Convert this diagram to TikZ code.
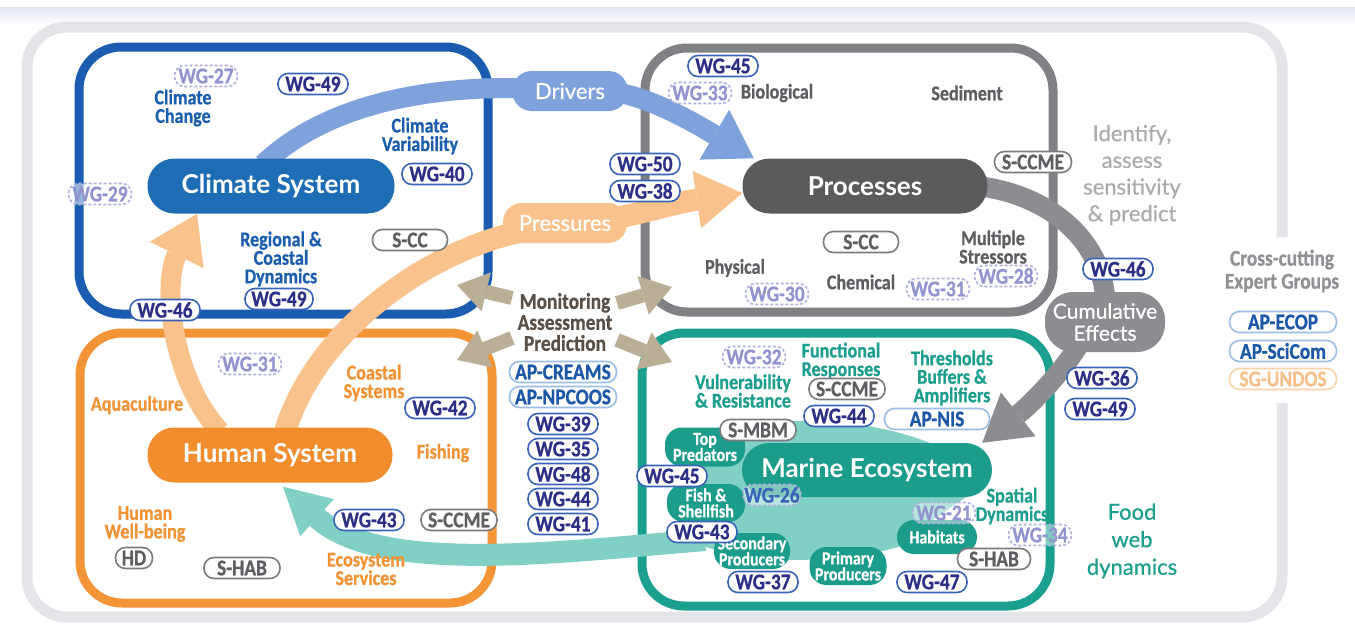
\documentclass[tikz,border=0pt]{standalone}
\usepackage{fontspec}
\usetikzlibrary{arrows.meta}
\newfontfamily\condfont{Carlito}[FakeStretch=0.86, BoldFeatures={FakeBold=0.7}]
\newfontfamily\latofont{Lato}
\newfontfamily\latomed{Lato}[FakeBold=0.6]
\definecolor{topg}{HTML}{E2E4EE}
\definecolor{outerg}{HTML}{E4E5E8}
\definecolor{bluebox}{HTML}{1A5CB0}
\definecolor{cspill}{HTML}{1E6DB4}
\definecolor{drv}{HTML}{7FA2DD}
\definecolor{greybox}{HTML}{808184}
\definecolor{prpill}{HTML}{5A5B5D}
\definecolor{orangebox}{HTML}{F39536}
\definecolor{hspill}{HTML}{F18D2C}
\definecolor{prs}{HTML}{F9C28C}
\definecolor{tealbox}{HTML}{1BA090}
\definecolor{mepill}{HTML}{1C9C8B}
\definecolor{lteal}{HTML}{80D0C6}
\definecolor{tanc}{HTML}{BAAE96}
\definecolor{cumg}{HTML}{8C8D90}
\definecolor{navy}{HTML}{2B2F86}
\definecolor{wgb}{HTML}{3A64B8}
\definecolor{dashb}{HTML}{B0B2DC}
\definecolor{dasht}{HTML}{9194CE}
\definecolor{sbord}{HTML}{7A7B7E}
\definecolor{stext}{HTML}{5E5F62}
\definecolor{apbord}{HTML}{9CBDE6}
\definecolor{aptext}{HTML}{1C58A8}
\definecolor{sgbord}{HTML}{F7D3AA}
\definecolor{sgtext}{HTML}{F5C08A}
\definecolor{bluelab}{HTML}{1B5DAE}
\definecolor{greylab}{HTML}{5D5E61}
\definecolor{orangelab}{HTML}{F19234}
\definecolor{teallab}{HTML}{1C9E8D}
\definecolor{idgrey}{HTML}{A9ABAE}
\definecolor{ccgrey}{HTML}{8F9194}
\definecolor{monc}{HTML}{5B5047}
\pgfdeclarelayer{bg}
\pgfdeclarelayer{mid}
\pgfsetlayers{bg,mid,main}
\tikzset{
  badge/.style={draw=wgb, fill=white, text=navy, rounded corners=10pt, line width=1.6pt,
    minimum width=70pt, minimum height=21pt, inner sep=0pt,
    font=\condfont\bfseries\fontsize{22.5}{22}\selectfont},
  wg/.style={badge},
  wgd/.style={badge, draw=dashb, text=dasht, dash pattern=on 3pt off 2pt,
    fill opacity=0.55, text opacity=1, minimum width=63pt},
  sb/.style={badge, draw=sbord, text=stext, minimum width=76pt},
  apb/.style={badge, draw=apbord, text=aptext, minimum width=107pt},
  sgb/.style={badge, draw=sgbord, text=sgtext, minimum width=107pt},
  lab/.style={font=\condfont\bfseries\fontsize{21}{18.5}\selectfont, align=center, inner sep=0pt},
  bluel/.style={lab, text=bluelab},
  greyl/.style={lab, text=greylab},
  orangel/.style={lab, text=orangelab},
  teall/.style={lab, text=teallab},
  pill/.style={rounded corners=27pt, minimum height=55pt, text=white, inner sep=0pt,
    font=\latofont\bfseries\fontsize{26}{26}\selectfont},
  smallpill/.style={rounded corners=19pt, minimum height=40pt, text=white, inner sep=0pt,
    font=\latomed\fontsize{22}{22}\selectfont},
  subpill/.style={rounded corners=17pt, fill=mepill, text=white, inner sep=0pt, align=center,
    font=\condfont\bfseries\fontsize{18.5}{16}\selectfont},
  box/.style={line width=9pt, rounded corners=42pt},
  band/.style={line width=20pt},
  bigtip/.style={-{Triangle[width=#1,length=46pt,line width=0pt]}},
  montip/.style={line width=14pt, tanc, -{Triangle[width=40pt,length=30pt,line width=0pt]}},
}
\begin{document}
\begin{tikzpicture}[x=1pt,y=-1pt]
\useasboundingbox (0,0) rectangle (1355,629);
\begin{pgfonlayer}{bg}
\fill[white] (0,0) rectangle (1355,629);
\shade[top color=topg, bottom color=white] (0,7) rectangle (1355,24);
\draw[outerg, line width=11pt, rounded corners=40pt]
  (1282,237) -- (1282,27) -- (27,27) -- (27,617) -- (1282,617) -- (1282,403);
\draw[box, bluebox] (79,47) rectangle (488,314);
\draw[box, greybox] (645,48) rectangle (1053,312);
\draw[box, orangebox] (80,333) rectangle (492,603);
\draw[box, tealbox] (642,333) rectangle (1050,606);
\fill[lteal] (705,440) .. controls (720,420) and (760,421) .. (800,421)
  .. controls (860,421) and (910,432) .. (945,450) -- (975,490)
  .. controls (950,510) and (920,525) .. (905,545)
  .. controls (870,556) and (830,560) .. (790,560)
  .. controls (750,560) and (720,552) .. (700,545) -- cycle;
\end{pgfonlayer}

% main pills
\node[pill, fill=cspill, minimum width=247pt] (cs) at (271,186) {Climate System};
\node[pill, fill=prpill, minimum width=245pt] (pr) at (865,186) {Processes};
\node[pill, fill=hspill, minimum width=245pt] (hs) at (270,455) {Human System};
\node[smallpill, fill=drv, minimum width=115pt] (dv) at (570,91) {Drivers};
\node[smallpill, fill=prs, minimum width=124pt] (ps) at (565,223) {Pressures};
\node[rounded corners=28pt, fill=cumg, text=white, minimum width=120pt, minimum height=60pt,
  inner sep=0pt, align=center, font=\latomed\fontsize{21}{22}\selectfont]
  (ce) at (1105,322) {Cumulative\\Effects};

% marine sub-pills
\node[subpill, minimum width=80pt, minimum height=39pt] (tp) at (705,447) {Top\\Predators};
\node[subpill, minimum width=78pt, minimum height=38pt] (fs) at (706,503) {Fish \&\\Shellfish};
\node[subpill, minimum width=76pt, minimum height=36pt] (sp) at (752,551) {Secondary\\Producers};
\node[subpill, minimum width=77pt, minimum height=38pt] (pp) at (848,566) {Primary\\Producers};
\node[subpill, minimum width=80pt, minimum height=34pt] (hb) at (937,537) {Habitats};
\node[pill, fill=mepill, minimum width=250pt, minimum height=54pt] (me) at (867,470) {Marine Ecosystem};

% monitoring
\node[font=\condfont\bfseries\fontsize{22.5}{21}\selectfont, text=monc, align=center, inner sep=0pt]
  (mon) at (565,322) {Monitoring\\Assessment\\Prediction};
\coordinate (t1) at (457,285);
\coordinate (t2) at (457,360);
\coordinate (t3) at (672,287);
\coordinate (t4) at (672,362);

\begin{pgfonlayer}{mid}
\draw[band, drv, bigtip=58pt] ([xshift=-8pt,yshift=-6pt]cs.north)
  .. controls (320,110) and (410,88) .. (510,88) -- (615,92)
  .. controls (650,98) and (688,119) .. (pr.166);
\draw[band, prs, line width=22pt, bigtip=58pt] ([xshift=15pt,yshift=-4pt]hs.north)
  .. controls (320,320) and (440,248) .. (520,232) -- (615,218)
  .. controls (640,214) and (674,203) .. ([yshift=-7pt]pr.west);
\draw[band, prs, bigtip=60pt] ([xshift=-50pt,yshift=-4pt]hs.north)
  .. controls (172,380) and (162,285) .. ([xshift=-74pt]cs.south);
\draw[band, lteal, line width=22pt, bigtip=50pt] (705,540)
  .. controls (560,552) and (380,575) .. ([xshift=13pt,yshift=-4pt]hs.south);
\draw[band, cumg] ([xshift=-10pt]pr.east) .. controls (1050,195) and (1100,240) .. ([yshift=-4pt]ce.north);
\draw[band, cumg, bigtip=56pt] ([xshift=-27pt,yshift=6pt]ce.south)
  .. controls (1060,375) and (1030,405) .. ([xshift=-10pt]me.north east);
\draw[montip] ([xshift=-53pt,yshift=24pt]mon.center) -- (t1);
\draw[montip] ([xshift=-53pt,yshift=-16pt]mon.center) -- (t2);
\draw[montip] ([xshift=52pt,yshift=19pt]mon.center) -- (t3);
\draw[montip] ([xshift=52pt,yshift=-18pt]mon.center) -- (t4);
\end{pgfonlayer}

% climate box
\node[wgd] (b27) at (206,76) {WG-27};
\node[wg] (b49a) at (313,84) {WG-49};
\node[wgd] (b29) at (100,194) {WG-29};
\node[wg] (b40) at (437,174) {WG-40};
\node[sb, minimum width=75pt] (bscc) at (410,240) {S-CC};
\node[wg, minimum width=68pt] (b49b) at (279,299) {WG-49};
\node[wg] (b46) at (165,310) {WG-46};
\node[bluel] (lcc) at (183,108) {Climate\\Change};
\node[bluel] (lcv) at (420,136) {Climate\\Variability};
\node[bluel] (lrc) at (281,259) {Regional \&\\Coastal\\Dynamics};

% processes box
\node[wg] (p45) at (723,66) {WG-45};
\node[wgd] (p33) at (700,93) {WG-33};
\node[greyl] (lbio) at (777,93) {Biological};
\node[greyl] (lsed) at (967,93) {Sediment};
\node[wg] (p50) at (645,164) {WG-50};
\node[wg] (p38) at (645,191) {WG-38};
\node[sb, minimum width=77pt] (pscm) at (1033,162) {S-CCME};
\node[sb, minimum width=75pt] (pscc) at (861,242) {S-CC};
\node[greyl] (lphy) at (735,268) {Physical};
\node[wgd] (p30) at (777,294) {WG-30};
\node[greyl] (lche) at (861,282) {Chemical};
\node[wgd] (p31) at (938,289) {WG-31};
\node[greyl] (lms) at (993,247) {Multiple\\Stressors};
\node[wgd] (p28) at (1006,276) {WG-28};

% right side
\node[wg] (r46) at (1118,269) {WG-46};
\node[wg] (r36) at (1102,378) {WG-36};
\node[wg] (r49) at (1100,409) {WG-49};
\node[font=\latomed\fontsize{22}{26.7}\selectfont, text=idgrey, align=center, inner sep=0pt]
  (idt) at (1132,175) {Identify,\\assess\\sensitivity\\\& predict};
\node[font=\condfont\bfseries\fontsize{22.5}{23}\selectfont, text=ccgrey, align=center, inner sep=0pt]
  (cct) at (1282,271) {Cross-cutting\\Expert Groups};
\node[apb] (aecop) at (1283,322) {AP-ECOP};
\node[apb] (asci) at (1283,351) {AP-SciCom};
\node[sgb] (sgu) at (1283,379) {SG-UNDOS};
\node[font=\latomed\fontsize{22}{27.5}\selectfont, text=teallab, align=center, inner sep=0pt]
  (fwd) at (1132,541) {Food\\web\\dynamics};

% human box
\node[wgd] (h31) at (250,364) {WG-31};
\node[orangel] (laq) at (137,405) {Aquaculture};
\node[orangel] (lcs) at (374,383) {Coastal\\Systems};
\node[wg] (h42) at (440,408) {WG-42};
\node[orangel] (lfi) at (443,453) {Fishing};
\node[orangel] (lhw) at (145,524) {Human\\Well-being};
\node[sb, minimum width=37pt] (hhd) at (134,558) {HD};
\node[sb] (hshab) at (242,568) {S-HAB};
\node[wg] (h43) at (369,520) {WG-43};
\node[sb] (hscm) at (459,520) {S-CCME};
\node[orangel] (les) at (366,569) {Ecosystem\\Services};

% middle column
\node[apb] (acr) at (563,372) {AP-CREAMS};
\node[apb] (anp) at (563,397) {AP-NPCOOS};
\node[wg] (c39) at (563,424) {WG-39};
\node[wg] (c35) at (563,449) {WG-35};
\node[wg] (c48) at (563,474) {WG-48};
\node[wg] (c44) at (563,499) {WG-44};
\node[wg] (c41) at (563,524) {WG-41};

% marine box
\node[wgd] (m32) at (754,357) {WG-32};
\node[teall] (lvr) at (743,391) {Vulnerability\\\& Resistance};
\node[teall] (lfr) at (841,361) {Functional\\Responses};
\node[sb] (mscm) at (847,389) {S-CCME};
\node[wg] (m44) at (839,416) {WG-44};
\node[teall] (lth) at (952,378) {Thresholds\\Buffers \&\\Amplifiers};
\node[apb, minimum width=105pt] (mnis) at (937,419) {AP-NIS};
\node[sb] (mmbm) at (758,430) {S-MBM};
\node[wg] (m45) at (672,476) {WG-45};
\node[wgd, minimum width=58pt, fill opacity=0.45, text=wgb] (m26) at (772,495) {WG-26};
\node[wg] (m43) at (702,532) {WG-43};
\node[wg] (m37) at (763,582) {WG-37};
\node[wg] (m47) at (932,582) {WG-47};
\node[wgd, fill opacity=0.45] (m21) at (944,513) {WG-21};
\node[sb, minimum width=73pt] (mshab) at (994,559) {S-HAB};
\node[teall] (lsd) at (1012,506) {Spatial\\Dynamics};
\node[wgd, fill opacity=0.45] (m34) at (1040,535) {WG-34};
\end{tikzpicture}
\end{document}
